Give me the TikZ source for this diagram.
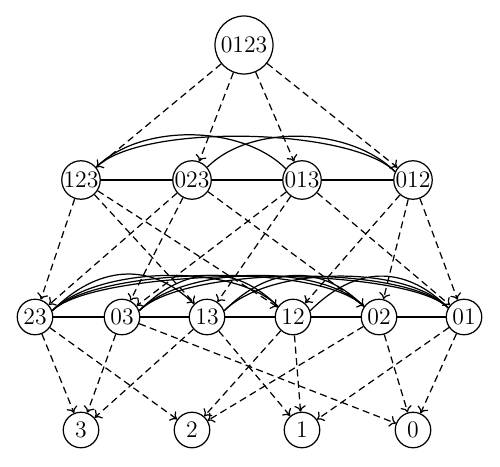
\documentclass[tikz,border=0pt]{standalone}
\usetikzlibrary{arrows.meta}
\tikzset{>={To[length=3.5pt,width=6.5pt]}}
\tikzset{
  vtx/.style={circle, draw, minimum size=0.71cm, inner sep=0pt, font=\fontsize{13.5}{15}\selectfont},
  top/.style={vtx, minimum size=1.16cm},
  hasse/.style={->, dash pattern=on 4pt off 2.5pt},
  arc/.style={out=45, in=135, distance=1.25cm}
}
\begin{document}
\begin{tikzpicture}[line width=0.7pt]
\useasboundingbox (0,0) rectangle (10,9.32);
% nodes
\node[top] (0123) at (4.88,8.42) {0123};
\node[vtx] (123) at (1.62,5.72) {123};
\node[vtx] (023) at (3.84,5.72) {023};
\node[vtx] (013) at (6.04,5.72) {013};
\node[vtx] (012) at (8.26,5.72) {012};
\node[vtx] (23) at (0.70,2.98) {23};
\node[vtx] (03) at (2.44,2.98) {03};
\node[vtx] (13) at (4.14,2.98) {13};
\node[vtx] (12) at (5.86,2.98) {12};
\node[vtx] (02) at (7.58,2.98) {02};
\node[vtx] (01) at (9.28,2.98) {01};
\node[vtx] (3) at (1.62,0.72) {3};
\node[vtx] (2) at (3.84,0.72) {2};
\node[vtx] (1) at (6.04,0.72) {1};
\node[vtx] (0) at (8.26,0.72) {0};
% dashed arrows
\draw[hasse] (0123) edge (123) edge (023) edge (013) edge (012);
\draw[hasse] (123) edge (23) edge (13) edge (12);
\draw[hasse] (023) edge (23) edge (03) edge (02);
\draw[hasse] (013) edge (03) edge (13) edge (01);
\draw[hasse] (012) edge (12) edge (02) edge (01);
\draw[hasse] (23) edge (3) edge (2);
\draw[hasse] (03) edge (3) edge (0);
\draw[hasse] (13) edge (3) edge (1);
\draw[hasse] (12) edge (2) edge (1);
\draw[hasse] (02) edge (2) edge (0);
\draw[hasse] (01) edge (1) edge (0);
% solid lines, second row
\draw (123) -- (023) -- (013) -- (012);
\draw (123.40) to[arc] (013.145);
\draw (123.40) to[arc] (012.155);
\draw (023.40) to[arc] (012.155);
% solid lines, third row
\draw (23) -- (03) -- (13) -- (12) -- (02) -- (01);
\draw (23.20) to[arc] (13.135);
\draw (23.20) to[arc] (12.145);
\draw (23.20) to[arc] (02.145);
\draw (23.20) to[arc] (01.150);
\draw (03.20) to[arc] (12.145);
\draw (03.20) to[arc] (02.145);
\draw (03.20) to[arc] (01.150);
\draw (13.20) to[arc] (02.145);
\draw (13.20) to[arc] (01.150);
\draw (12.20) to[arc] (01.150);
\end{tikzpicture}
\end{document}
